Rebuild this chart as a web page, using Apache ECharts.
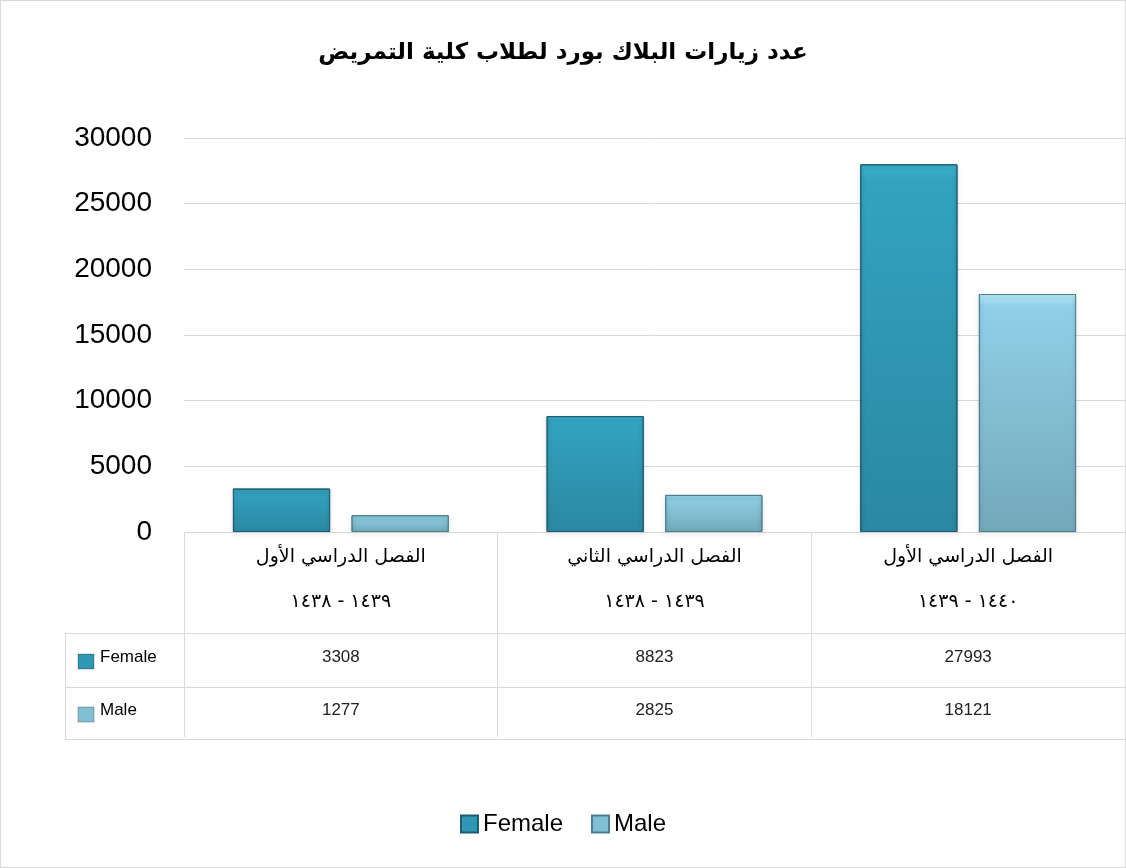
<!DOCTYPE html>
<html>
<head>
<meta charset="utf-8">
<script src="https://cdn.jsdelivr.net/npm/echarts@6/dist/echarts.min.js"></script>
<style>
html,body{margin:0;padding:0;background:#fff;}
#c{width:1126px;height:868px;box-sizing:border-box;border:1px solid #d9d9d9;}
</style>
</head>
<body>
<div id="c"></div>
<script>
const titleText = 'عدد زيارات البلاك بورد لطلاب كلية التمريض';
const categories = ['الفصل الدراسي الأول', 'الفصل الدراسي الثاني', 'الفصل الدراسي الأول'];
// years as shown left-to-right: [left year, right year]
const yearsFrom = ['١٤٣٨', '١٤٣٨', '١٤٣٩'];
const yearsTo = ['١٤٣٩', '١٤٣٩', '١٤٤٠'];
const seriesNames = ['Female', 'Male'];
const femaleValues = [3308, 8823, 27993];
const maleValues = [1277, 2825, 18121];
const yTicks = { min: 0, max: 30000, interval: 5000 };

const latin = '"Liberation Sans", Lato, sans-serif';
const arabic = '"DejaVu Sans", sans-serif';

const femaleColor = {
  type: 'linear', x: 0, y: 0, x2: 0, y2: 1,
  colorStops: [{offset: 0, color: '#3eb6d2'}, {offset: 0.04, color: '#33a3c1'}, {offset: 1, color: '#2b88a2'}]
};
const maleColor = {
  type: 'linear', x: 0, y: 0, x2: 0, y2: 1,
  colorStops: [{offset: 0, color: '#b8ecf8'}, {offset: 0.05, color: '#8fd0e7'}, {offset: 1, color: '#74a8ba'}]
};
const legendFemale = '#2f96b3';
const legendMale = '#80bfd4';

const chart = echarts.init(document.getElementById('c'), null, {renderer: 'canvas'});

const yStyle = {fontFamily: arabic, fontSize: 19, lineHeight: 45, color: '#000'};

const option = {
  animation: false,
  title: {
    text: titleText,
    left: 'center',
    top: 36,
    textStyle: {fontFamily: arabic, fontWeight: 'bold', fontSize: 23, color: '#000'}
  },
  legend: {
    bottom: 26,
    left: 'center',
    itemWidth: 17,
    itemHeight: 17,
    itemGap: 28,
    icon: 'rect',
    textStyle: {fontFamily: latin, fontSize: 24, color: '#000'},
    data: [
      {name: seriesNames[0], itemStyle: {color: legendFemale}},
      {name: seriesNames[1], itemStyle: {color: legendMale}}
    ]
  },
  grid: {left: 183, right: -4, top: 137, bottom: 335, containLabel: false},
  xAxis: {
    type: 'category',
    data: categories,
    axisLine: {show: true, lineStyle: {color: '#d9d9d9', width: 1}},
    axisTick: {show: true, length: 205, lineStyle: {color: '#d9d9d9'}},
    axisLabel: {
      margin: 3,
      formatter: function (v, i) {
        return '{t|' + v + '}\n{y|' + yearsFrom[i] + '}{y| - }{y|' + yearsTo[i] + '}';
      },
      fontFamily: arabic, fontSize: 19, lineHeight: 45, color: '#000',
      rich: {t: yStyle, y: yStyle}
    }
  },
  yAxis: {
    type: 'value',
    min: yTicks.min, max: yTicks.max, interval: yTicks.interval,
    axisLine: {show: false},
    axisTick: {show: false},
    axisLabel: {margin: 32, fontFamily: latin, fontSize: 28, color: '#000',
      formatter: function (v) { return String(v); }},
    splitLine: {lineStyle: {color: '#d9d9d9', width: 1}}
  },
  series: [
    {
      name: seriesNames[0], type: 'bar', data: femaleValues,
      barWidth: '31%', barGap: '22%',
      itemStyle: {color: femaleColor, borderColor: '#1d5d70', borderWidth: 1,
        shadowColor: 'rgba(0,0,0,0.25)', shadowBlur: 4, shadowOffsetY: 2}
    },
    {
      name: seriesNames[1], type: 'bar', data: maleValues,
      barWidth: '31%', barGap: '22%',
      itemStyle: {color: maleColor, borderColor: '#4e7f91', borderWidth: 1,
        shadowColor: 'rgba(0,0,0,0.25)', shadowBlur: 4, shadowOffsetY: 2}
    }
  ]
};
chart.setOption(option);

// data table built from the arrays, positioned by the category axis
const n = categories.length;
const c0 = chart.convertToPixel({xAxisIndex: 0}, 0);
const c1 = chart.convertToPixel({xAxisIndex: 0}, 1);
const band = c1 - c0;
const rightEdge = c0 + band * (n - 0.5);
const tableLeft = 64;
const rowTops = [632, 686, 738];
const lineColor = '#d9d9d9';
const elements = [];
rowTops.forEach(function (y) {
  elements.push({type: 'line', shape: {x1: tableLeft, y1: y + 0.5, x2: rightEdge, y2: y + 0.5},
    style: {stroke: lineColor, lineWidth: 1}, silent: true});
});
elements.push({type: 'line', shape: {x1: tableLeft + 0.5, y1: rowTops[0], x2: tableLeft + 0.5, y2: rowTops[2]},
  style: {stroke: lineColor, lineWidth: 1}, silent: true});
const rows = [femaleValues, maleValues];
const iconColors = [legendFemale, legendMale];
rows.forEach(function (vals, r) {
  const yMid = (rowTops[r] + rowTops[r + 1]) / 2;
  elements.push({type: 'rect', shape: {x: 77, y: yMid - 6, width: 16, height: 15},
    style: {fill: iconColors[r], stroke: 'rgba(0,0,0,0.25)', lineWidth: 1}, silent: true});
  elements.push({type: 'text', x: 99, y: yMid - 3,
    style: {text: seriesNames[r], font: '17px ' + latin, fill: '#000', textAlign: 'left', textVerticalAlign: 'middle'}, silent: true});
  vals.forEach(function (v, i) {
    const cx = chart.convertToPixel({xAxisIndex: 0}, i);
    elements.push({type: 'text', x: cx, y: yMid - 3,
      style: {text: String(v), font: '17px ' + latin, fill: '#222', textAlign: 'center', textVerticalAlign: 'middle'}, silent: true});
  });
});
chart.setOption({graphic: {elements: elements}});
</script>
</body>
</html>
